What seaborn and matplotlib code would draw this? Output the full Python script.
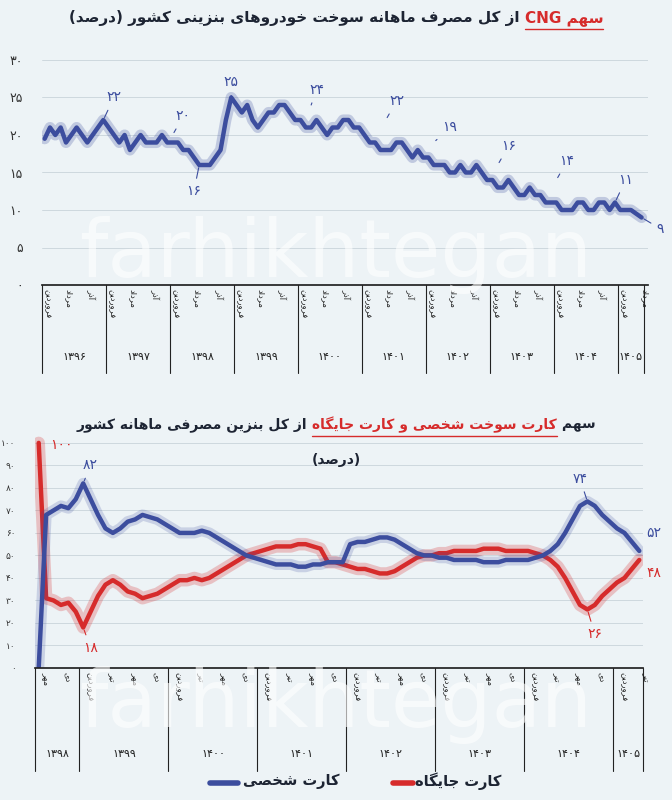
import numpy as np
import pandas as pd
import seaborn as sns
import matplotlib
matplotlib.use("Agg")
import matplotlib.pyplot as plt
import matplotlib.patheffects as pe
from matplotlib.transforms import blended_transform_factory as btf

# ---------------- data ----------------
cng_1396 = [19.5, 21, 20, 21, 19, 20, 21, 20, 19, 20, 21, 22]
cng_1397 = [21, 20, 19, 20, 18, 19, 20, 19, 19, 19, 20, 19]
cng_1398 = [19, 19, 18, 18, 17, 16, 16, 16, 17, 18, 22, 25]
cng_1399 = [24, 23, 24, 22, 21, 22, 23, 23, 24, 24, 23, 22]
cng_1400 = [22, 21, 21, 22, 21, 20, 21, 21, 22, 22, 21, 21]
cng_1401 = [20, 19, 19, 18, 18, 18, 19, 19, 18, 17, 18, 17]
cng_1402 = [17, 16, 16, 16, 15, 15, 16, 15, 15, 16, 15, 14]
cng_1403 = [14, 13, 13, 14, 13, 12, 12, 13, 12, 12, 11, 11]
cng_1404 = [11, 10, 10, 10, 11, 11, 10, 10, 11, 11, 10, 11]
cng_1405 = [10, 10, 10, 9.5, 9]
top_years = ["۱۳۹۶", "۱۳۹۷", "۱۳۹۸", "۱۳۹۹", "۱۴۰۰", "۱۴۰۱", "۱۴۰۲", "۱۴۰۳", "۱۴۰۴", "۱۴۰۵"]
top_months = ["فروردین", "مرداد", "آذر"]

personal = [0, 68, 70, 72, 71, 75,
            82, 75, 68, 62, 60, 62, 65, 66, 68, 67, 66, 64,
            62, 60, 60, 60, 61, 60, 58, 56, 54, 52, 50, 49,
            48, 47, 46, 46, 46, 45, 45, 46, 46, 47, 47, 47,
            55, 56, 56, 57, 58, 58, 57, 55, 53, 51, 50, 50,
            49, 49, 48, 48, 48, 48, 47, 47, 47, 48, 48, 48,
            48, 49, 50, 52, 55, 60, 66, 72, 74, 72, 68, 65,
            62, 60, 56, 52]
station = [100, 31, 30, 28, 29, 25,
           18, 25, 32, 37, 39, 37, 34, 33, 31, 32, 33, 35,
           37, 39, 39, 40, 39, 40, 42, 44, 46, 48, 50, 51,
           52, 53, 54, 54, 54, 55, 55, 54, 53, 47, 47, 46,
           45, 44, 44, 43, 42, 42, 43, 45, 47, 49, 50, 50,
           51, 51, 52, 52, 52, 52, 53, 53, 53, 52, 52, 52,
           52, 51, 50, 48, 45, 40, 34, 28, 26, 28, 32, 35,
           38, 40, 44, 48]
bot_years = ["۱۳۹۸", "۱۳۹۹", "۱۴۰۰", "۱۴۰۱", "۱۴۰۲", "۱۴۰۳", "۱۴۰۴", "۱۴۰۵"]
bot_months = ["فروردین", "تیر", "مهر", "دی"]

# ---------------- Persian shaping ----------------
F = {
    'ا': ('\uFE8D', '\uFE8E', None, None), 'آ': ('\uFE81', '\uFE82', None, None),
    'ب': ('\uFE8F', '\uFE90', '\uFE91', '\uFE92'), 'ت': ('\uFE95', '\uFE96', '\uFE97', '\uFE98'),
    'ج': ('\uFE9D', '\uFE9E', '\uFE9F', '\uFEA0'), 'خ': ('\uFEA5', '\uFEA6', '\uFEA7', '\uFEA8'),
    'د': ('\uFEA9', '\uFEAA', None, None), 'ذ': ('\uFEAB', '\uFEAC', None, None),
    'ر': ('\uFEAD', '\uFEAE', None, None), 'ز': ('\uFEAF', '\uFEB0', None, None),
    'س': ('\uFEB1', '\uFEB2', '\uFEB3', '\uFEB4'), 'ش': ('\uFEB5', '\uFEB6', '\uFEB7', '\uFEB8'),
    'ص': ('\uFEB9', '\uFEBA', '\uFEBB', '\uFEBC'), 'ف': ('\uFED1', '\uFED2', '\uFED3', '\uFED4'),
    'ک': ('\uFB8E', '\uFB8F', '\uFB90', '\uFB91'), 'گ': ('\uFB92', '\uFB93', '\uFB94', '\uFB95'),
    'ل': ('\uFEDD', '\uFEDE', '\uFEDF', '\uFEE0'), 'م': ('\uFEE1', '\uFEE2', '\uFEE3', '\uFEE4'),
    'ن': ('\uFEE5', '\uFEE6', '\uFEE7', '\uFEE8'), 'ه': ('\uFEE9', '\uFEEA', '\uFEEB', '\uFEEC'),
    'و': ('\uFEED', '\uFEEE', None, None), 'ی': ('\uFBFC', '\uFBFD', '\uFBFE', '\uFBFF'),
}


def fa(s):
    out = []
    for i, c in enumerate(s):
        if c not in F:
            out.append(c)
            continue
        p = s[i - 1] if i > 0 else None
        n = s[i + 1] if i + 1 < len(s) else None
        jp = p in F and F[p][2] is not None
        jn = n in F and F[c][2] is not None
        if jp and jn:
            out.append(F[c][3])
        elif jp:
            out.append(F[c][1])
        elif jn:
            out.append(F[c][2])
        else:
            out.append(F[c][0])
    runs = []
    for c in out:
        ltr = c.isascii() and c.isalnum() or ('\u06F0' <= c <= '\u06F9')
        if runs and runs[-1][0] == ltr:
            runs[-1][1].append(c)
        else:
            runs.append([ltr, [c]])
    mirror = {'(': ')', ')': '('}
    res = ''
    for ltr, cs in reversed(runs):
        if ltr:
            res += ''.join(cs)
        else:
            res += ''.join(mirror.get(c, c) for c in reversed(cs))
    return res


# ---------------- style ----------------
BG = "#edf3f6"
BLUE = "#3c4d9e"
RED = "#d62b2b"
DARK = "#1d2433"
sns.set_theme(style="white")
plt.rcParams['font.family'] = ['DejaVu Sans']

fig = plt.figure(figsize=(6.72, 8.0), dpi=100, facecolor=BG)
W, H = 672, 800


def axbox(l, t, r, b):
    return [l / W, 1 - b / H, (r - l) / W, (b - t) / H]


def ay(px, h):
    return -px / h


# watermark
for yy in [1 - 255 / H, 1 - 705 / H]:
    fig.text(0.5, yy, "farhikhtegan", ha="center", va="center", fontsize=58, color="#ffffff", alpha=0.6, zorder=0)

# ---------------- top chart ----------------
cng = cng_1396 + cng_1397 + cng_1398 + cng_1399 + cng_1400 + cng_1401 + cng_1402 + cng_1403 + cng_1404 + cng_1405
df1 = pd.DataFrame({"m": np.arange(len(cng)), "v": cng})
ax1 = fig.add_axes(axbox(42, 45, 648, 285))
ax1.set_facecolor("none")
sns.lineplot(data=df1, x="m", y="v", ax=ax1, color=BLUE, lw=3.2,
             path_effects=[pe.Stroke(linewidth=8, foreground=BLUE, alpha=0.25), pe.Normal()])
ax1.set_xlim(-0.5, 113.2)
ax1.set_ylim(0, 32)
ax1.set_yticks([0, 5, 10, 15, 20, 25, 30])
ax1.set_yticklabels(["۰", "۵", "۱۰", "۱۵", "۲۰", "۲۵", "۳۰"], color="#333333", fontsize=9)
ax1.tick_params(axis='y', length=0, pad=14)
ax1.set_xticks([])
ax1.set_xlabel("")
ax1.set_ylabel("")
ax1.grid(axis='y', color="#c9d3da", lw=0.6)
for s in ["top", "right", "left"]:
    ax1.spines[s].set_visible(False)
ax1.spines["bottom"].set_color("#222222")

tr1 = btf(ax1.transData, ax1.transAxes)
h1 = 240.0
for k in range(10):
    ax1.plot([12 * k - 0.5] * 2, [0, ay(88, h1)], transform=tr1, color="#222222", lw=0.8, clip_on=False)
ax1.plot([112.5] * 2, [0, ay(88, h1)], transform=tr1, color="#222222", lw=0.8, clip_on=False)
for k, yr in enumerate(top_years):
    n = 12 if k < 9 else 5
    ax1.text(12 * k - 0.5 + n / 2, ay(72, h1), yr, transform=tr1, ha="center", va="center", fontsize=8, color="#222222")
    for j, mo in zip([0, 4, 8], top_months):
        if 12 * k + j < len(cng):
            ax1.text(12 * k + j + 0.6, ay(4, h1), fa(mo), transform=tr1, ha="center", va="top",
                     rotation=270, fontsize=6, color="#222222")

ann1 = [(11, 22, "۲۲", 2, 3), (24, 20, "۲۰", 2, 2.5), (35, 25, "۲۵", 0, 2), (29, 16, "۱۶", -1, -3.5),
        (50, 24, "۲۴", 1, 2), (64, 22, "۲۲", 2, 2.5), (73, 19, "۱۹", 3, 2), (85, 16, "۱۶", 2, 2.5),
        (96, 14, "۱۴", 2, 2.5), (107, 11, "۱۱", 2, 3)]
for x, y, t, dx, dy in ann1:
    ax1.annotate(t, xy=(x, y), xytext=(x + dx, y + dy), ha="center", va="center", fontsize=10,
                 color=BLUE, arrowprops=dict(arrowstyle="-", color=BLUE, lw=0.8))
ax1.annotate("۹", xy=(112, 9), xytext=(115.5, 7.5), ha="center", va="center", fontsize=10,
             color=BLUE, annotation_clip=False, arrowprops=dict(arrowstyle="-", color=BLUE, lw=0.8))

# ---------------- bottom chart ----------------
df2 = pd.DataFrame({"m": np.arange(len(personal)), "personal": personal, "station": station})
ax2 = fig.add_axes(axbox(35, 435, 643, 668))
ax2.set_facecolor("none")
sns.lineplot(data=df2, x="m", y="station", ax=ax2, color=RED, lw=3.2,
             path_effects=[pe.Stroke(linewidth=9, foreground=RED, alpha=0.25), pe.Normal()])
sns.lineplot(data=df2, x="m", y="personal", ax=ax2, color=BLUE, lw=3.2,
             path_effects=[pe.Stroke(linewidth=8, foreground=BLUE, alpha=0.2), pe.Normal()])
ax2.set_xlim(-0.5, 81.5)
ax2.set_ylim(0, 103.5)
yt2 = list(range(0, 101, 10))
pdig = "۰۱۲۳۴۵۶۷۸۹"
ax2.set_yticks(yt2)
ax2.set_yticklabels(["".join(pdig[int(c)] for c in str(v)) for v in yt2], color="#333333", fontsize=6.5)
ax2.tick_params(axis='y', length=0, pad=14)
ax2.set_xticks([])
ax2.set_xlabel("")
ax2.set_ylabel("")
ax2.grid(axis='y', color="#c9d3da", lw=0.6)
for s in ["top", "right", "left"]:
    ax2.spines[s].set_visible(False)
ax2.spines["bottom"].set_color("#222222")
tr2 = btf(ax2.transData, ax2.transAxes)
h2 = 233.0
bounds = [-0.5] + [5.5 + 12 * k for k in range(7)] + [81.5]
for b in bounds:
    ax2.plot([b] * 2, [0, ay(103, h2)], transform=tr2, color="#222222", lw=0.8, clip_on=False)
for k, yr in enumerate(bot_years):
    l, r = bounds[k], bounds[k + 1]
    ax2.text((l + r) / 2, ay(86, h2), yr, transform=tr2, ha="center", va="center", fontsize=8, color="#222222")
    start = -6 if k == 0 else 6 + 12 * (k - 1)
    for j, mo in zip([0, 3, 6, 9], bot_months):
        x = start + j
        if 0 <= x < len(personal):
            ax2.text(x + 0.9, ay(4, h2), fa(mo), transform=tr2, ha="center", va="top",
                     rotation=270, fontsize=6, color="#222222")

ax2.annotate("۸۲", xy=(6, 82), xytext=(7, 90), ha="center", va="center", fontsize=10, color=BLUE,
             arrowprops=dict(arrowstyle="-", color=BLUE, lw=0.8))
ax2.annotate("۱۸", xy=(6, 18), xytext=(7, 9), ha="center", va="center", fontsize=10, color=RED,
             arrowprops=dict(arrowstyle="-", color=RED, lw=0.8))
ax2.text(1.5, 99, "۱۰۰", ha="left", va="center", fontsize=10, color=RED)
ax2.annotate("۷۴", xy=(74, 74), xytext=(73, 84), ha="center", va="center", fontsize=10, color=BLUE,
             arrowprops=dict(arrowstyle="-", color=BLUE, lw=0.8))
ax2.annotate("۲۶", xy=(74, 26), xytext=(75, 15), ha="center", va="center", fontsize=10, color=RED,
             arrowprops=dict(arrowstyle="-", color=RED, lw=0.8))
ax2.text(82, 60, "۵۲", ha="left", va="center", fontsize=10, color=BLUE, clip_on=False)
ax2.text(82, 42, "۴۸", ha="left", va="center", fontsize=10, color=RED, clip_on=False)


# ---------------- titles (right-to-left pieces, centred) ----------------
def rtl_title(pieces, y, size):
    """pieces in reading order (right to left): (text, color)"""
    fig.canvas.draw()
    r = fig.canvas.get_renderer()
    objs = []
    for txt, col in pieces:
        t = fig.text(0, y, fa(txt), ha="left", va="center", fontsize=size, fontweight="bold", color=col)
        objs.append(t)
    widths = [t.get_window_extent(r).width / W for t in objs]
    total = sum(widths)
    x = 0.5 + total / 2
    pos = []
    for t, w in zip(objs, widths):
        x -= w
        t.set_x(x)
        pos.append((x, w))
    return pos


p = rtl_title([("سهم CNG", RED), (" از کل مصرف ماهانه سوخت خودروهای بنزینی کشور (درصد)", DARK)], 1 - 18 / H, 11)
fig.add_artist(plt.Line2D([p[0][0], p[0][0] + p[0][1]], [1 - 29 / H] * 2, color=RED, lw=1))
p2 = rtl_title([("سهم ", DARK), ("کارت سوخت شخصی و کارت جایگاه", RED), (" از کل بنزین مصرفی ماهانه کشور", DARK)],
               1 - 425 / H, 10)
fig.add_artist(plt.Line2D([p2[1][0], p2[1][0] + p2[1][1]], [1 - 436 / H] * 2, color=RED, lw=1))
fig.text(0.5, 1 - 460 / H, fa("(درصد)"), ha="center", va="center", fontsize=10, fontweight="bold", color=DARK)

# ---------------- legend ----------------
fig.add_artist(plt.Line2D([210 / W, 238 / W], [1 - 783 / H] * 2, color=BLUE, lw=4, solid_capstyle="round"))
fig.text(243 / W, 1 - 781 / H, fa("کارت شخصی"), ha="left", va="center", fontsize=10.5, fontweight="bold", color=DARK)
fig.add_artist(plt.Line2D([393 / W, 413 / W], [1 - 783 / H] * 2, color=RED, lw=4, solid_capstyle="round"))
fig.text(415 / W, 1 - 781 / H, fa("کارت جایگاه"), ha="left", va="center", fontsize=10.5, fontweight="bold", color=DARK)

fig.savefig("out.png", dpi=100, facecolor=BG)
